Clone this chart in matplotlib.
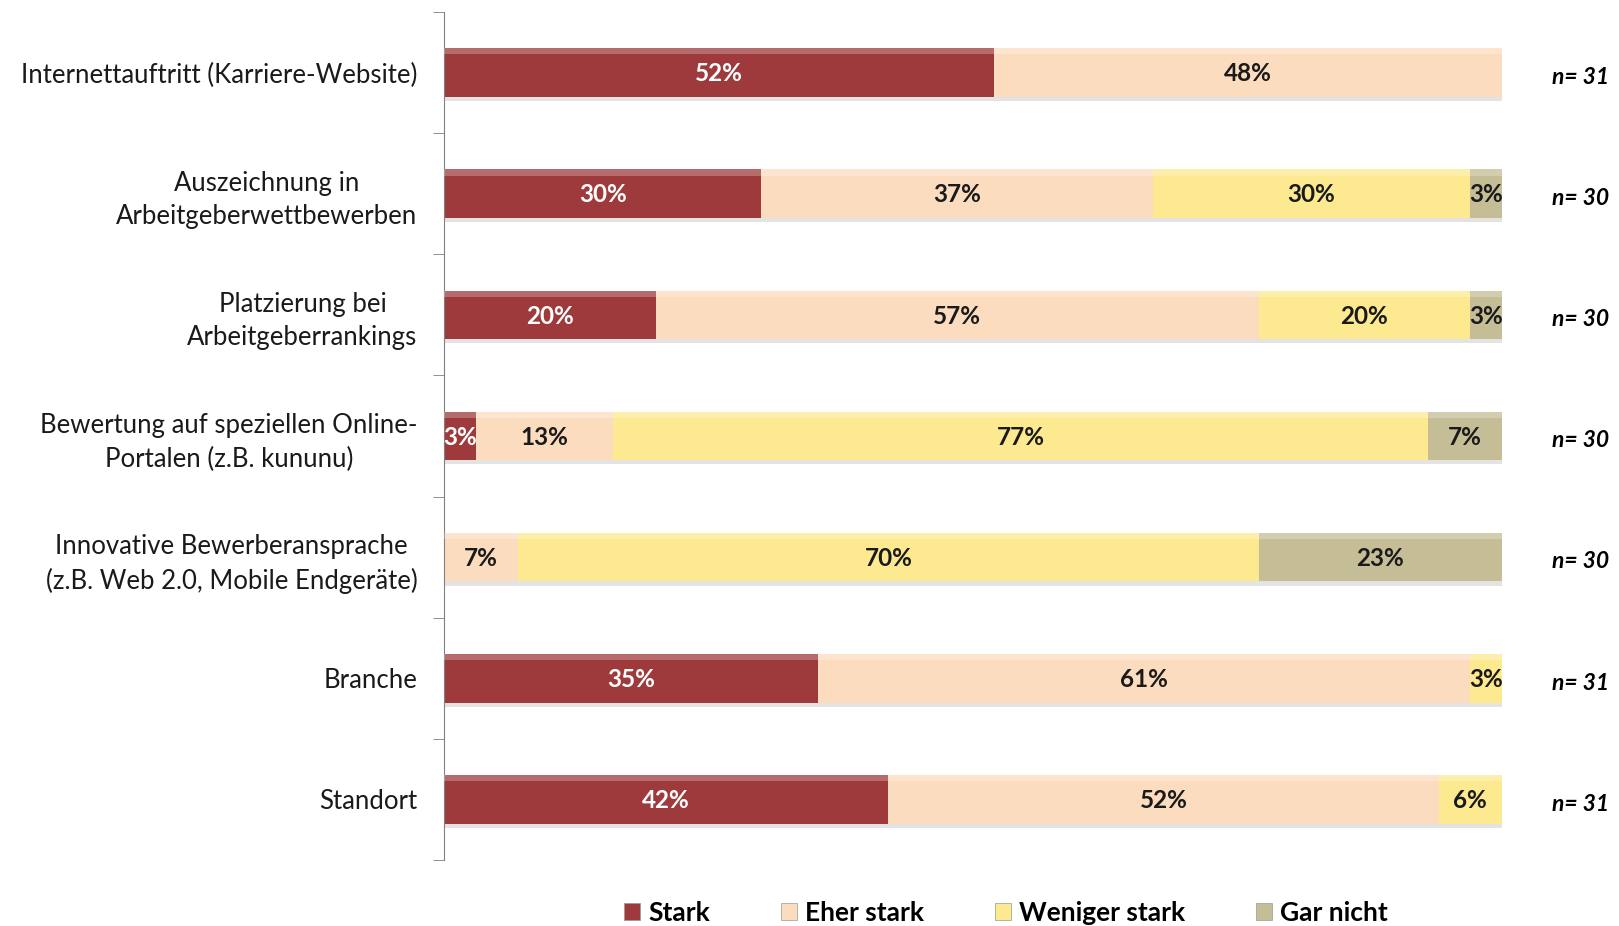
import numpy as np
import matplotlib
matplotlib.use("Agg")
import matplotlib.pyplot as plt
from matplotlib.patches import Patch

plt.rcParams['font.family'] = ['Lato', 'DejaVu Sans']

categories = [
    "Internettauftritt (Karriere-Website)",
    "Auszeichnung in\nArbeitgeberwettbewerben",
    "Platzierung bei\nArbeitgeberrankings",
    "Bewertung auf speziellen Online-\nPortalen (z.B. kununu)",
    "Innovative Bewerberansprache\n(z.B. Web 2.0, Mobile Endgeräte)",
    "Branche",
    "Standort",
]
series_names = ["Stark", "Eher stark", "Weniger stark", "Gar nicht"]
stark = [52, 30, 20, 3, 0, 35, 42]
eher_stark = [48, 37, 57, 13, 7, 61, 52]
weniger_stark = [0, 30, 20, 77, 70, 3, 6]
gar_nicht = [0, 3, 3, 7, 23, 0, 0]
n_counts = [31, 30, 30, 30, 30, 31, 31]

colors = ["#9e3a3b", "#fcdcbf", "#fde98f", "#c5bd96"]
text_colors = ["white", "#1a1a1a", "#1a1a1a", "#1a1a1a"]

W, H = 1619, 926
fig = plt.figure(figsize=(W / 100, H / 100), dpi=100)
ax = fig.add_axes([444 / W, 1 - 860 / H, (1502 - 444) / W, (860 - 12) / H])

series = np.array([stark, eher_stark, weniger_stark, gar_nicht], dtype=float)
# 100% stacked: every row is scaled to its own total
totals = series.sum(axis=0)
shares = series / totals * 100

y = np.arange(len(categories))
height = 0.40
left = np.zeros(len(categories))
for vals, widths, col, tcol in zip(series, shares, colors, text_colors):
    # soft drop shadow under each segment
    ax.barh(y + 0.035, widths, left=left, height=height, color="#b0b0b0", alpha=0.35,
            edgecolor="none", zorder=1)
    ax.barh(y, widths, left=left, height=height, color=col, edgecolor="none", zorder=2)
    # light bevel along the upper edge
    ax.barh(y - height / 2 + 0.025, widths, left=left, height=0.05, color="white", alpha=0.25,
            edgecolor="none", zorder=3)
    for yi, v, w, l in zip(y, vals, widths, left):
        if v > 0:
            ax.text(l + w / 2, yi + 0.01, f"{int(v)}%", ha="center", va="center",
                    color=tcol, fontsize=17.5, fontweight="bold", zorder=4)
    left += widths

for yi, n in zip(y, n_counts):
    ax.text(1.047, yi + 0.04, f"n= {n}", transform=ax.get_yaxis_transform(),
            ha="left", va="center", fontsize=16.5, fontweight="bold", fontstyle="italic")

ax.set_xlim(0, 100)
ax.set_ylim(len(categories) - 0.5, -0.5)
ax.set_yticks(y)
ax.set_yticklabels(categories, fontsize=18.5, multialignment="center", color="#1a1a1a",
                   linespacing=1.4)
ax.tick_params(axis="y", which="major", length=0, pad=19)
ax.set_yticks(np.arange(len(categories) + 1) - 0.5, minor=True)
ax.tick_params(axis="y", which="minor", length=8, direction="out", color="#808080")
ax.set_xticks([])
for side in ["top", "right", "bottom"]:
    ax.spines[side].set_visible(False)
ax.spines["left"].set_color("#808080")

handles = [Patch(facecolor=c, edgecolor="#999999", linewidth=0.5) for c in colors]
fig.legend(handles, series_names, loc="center", bbox_to_anchor=(1006 / W, 1 - 913 / H),
           ncol=4, frameon=False, handlelength=0.6, handleheight=0.6, handletextpad=0.3,
           columnspacing=2.7, prop={"weight": "bold", "size": 19})

fig.savefig("out.png", dpi=100)
